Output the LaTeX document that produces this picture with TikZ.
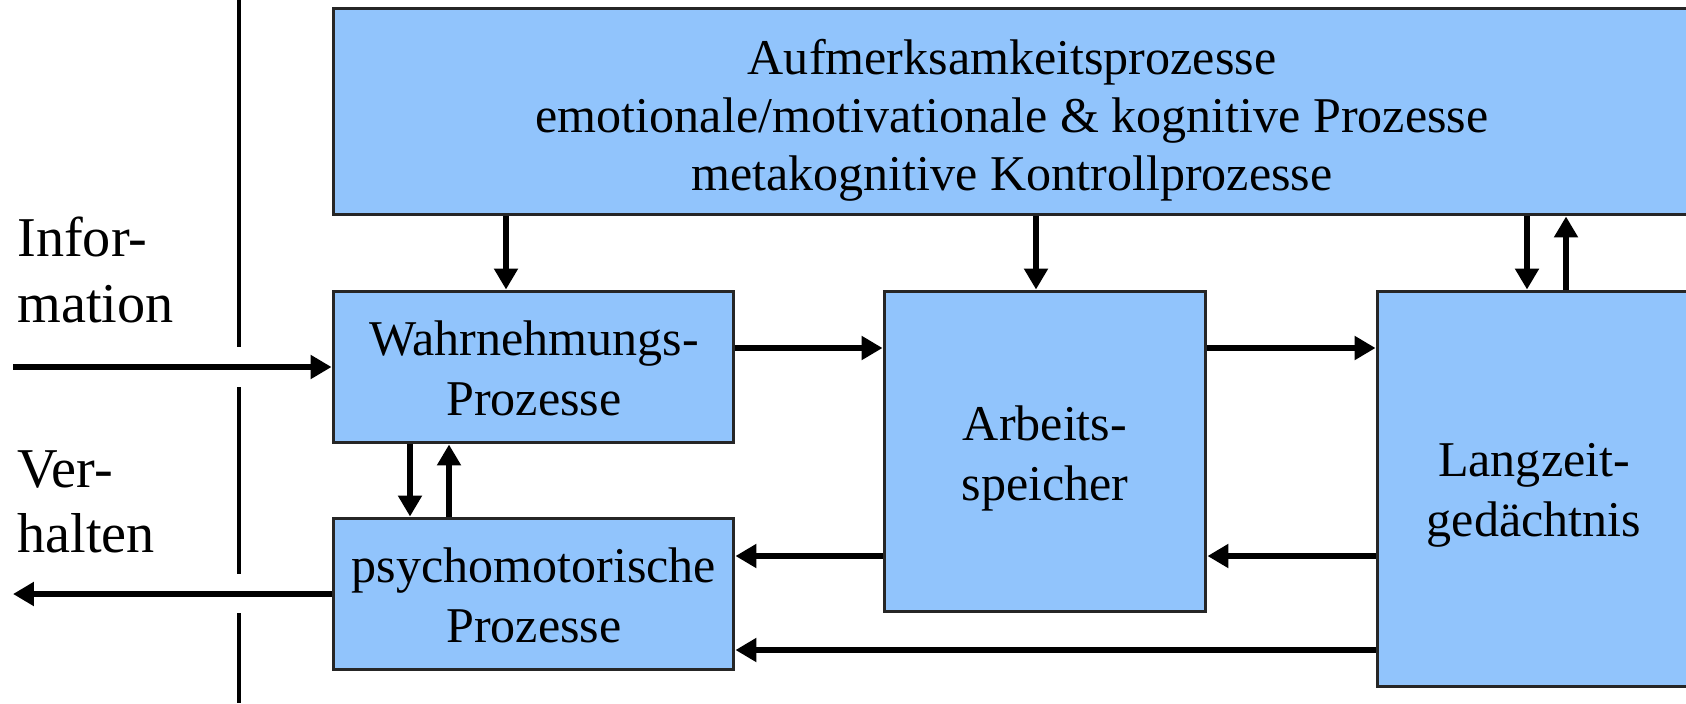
\documentclass[tikz,border=0pt]{standalone}
\usepackage{fontspec}
\setmainfont{Liberation Serif}
\usetikzlibrary{arrows.meta}
\definecolor{boxblue}{RGB}{145,196,252}
\begin{document}
\begin{tikzpicture}[x=0.02cm,y=-0.02cm,
  box/.style={draw=black!85, line width=0.06cm, fill=boxblue, inner sep=0pt},
  boxtext/.style={anchor=base, align=center, inner sep=0pt,
              font=\fontsize{28.5}{34}\selectfont},
  arr/.style={line width=0.13cm, -{Triangle[length=0.42cm,width=0.46cm]}},
  lbl/.style={anchor=base west, align=left, inner sep=0pt, font=\fontsize{32}{37}\selectfont},
  sep/.style={line width=0.07cm}]
\clip (0,0) rectangle (1686,703);
\fill[white] (0,0) rectangle (1686,703);

% boxes
\node[box, minimum width=27.24cm, minimum height=4.14cm] (top) at (1014,111.5) {};
\node[box, minimum width=8.02cm, minimum height=3.04cm] (wahr) at (533.5,367) {};
\node[box, minimum width=8.02cm, minimum height=3.04cm] (psy) at (533.5,594) {};
\node[box, minimum width=6.44cm, minimum height=6.42cm] (arb) at (1045,451.5) {};
\node[box, minimum width=6.36cm, minimum height=7.92cm] (lang) at (1536,489) {};

% box texts (anchored at the baseline of the last line)
\node[boxtext, font=\fontsize{28.5}{33}\selectfont] (toptxt) at (1012,190)
  {Aufmerksamkeitsprozesse\\emotionale/motivationale \& kognitive Prozesse\\metakognitive Kontrollprozesse};
\node[boxtext] (wahrtxt) at (534,415) {Wahrnehmungs-\\Prozesse};
\node[boxtext] (psytxt) at (534,642) {psychomotorische\\Prozesse};
\node[boxtext] (arbtxt) at (1045,500) {Arbeits-\\speicher};
\node[boxtext] (langtxt) at (1534,536) {Langzeit-\\gedächtnis};

% side labels (anchored at the baseline of the last line)
\node[lbl] (info) at (17,322) {Infor-\\mation};
\node[lbl] (verh) at (17,552) {Ver-\\halten};

% separator line
\coordinate (s0) at (239,0);
\coordinate (s1) at (239,347);
\coordinate (s2) at (239,387);
\coordinate (s3) at (239,574);
\coordinate (s4) at (239,613);
\coordinate (s5) at (239,703);
\draw[sep] (s0) -- (s1);
\draw[sep] (s2) -- (s3);
\draw[sep] (s4) -- (s5);

% helper coordinates
\coordinate (xA) at (506,0);
\coordinate (xB) at (1036,0);
\coordinate (xC) at (1527,0);
\coordinate (xD) at (1566,0);
\coordinate (xE) at (410,0);
\coordinate (xF) at (449,0);
\coordinate (yA) at (0,348);
\coordinate (yB) at (0,556);
\coordinate (yC) at (0,650);
\coordinate (inL) at (13,367);
\coordinate (outL) at (13,594);

% connectors
\draw[arr] (inL) -- (wahr.west);
\draw[arr] (psy.west) -- (outL);
\draw[arr] (top.south -| xA) -- (wahr.north -| xA);
\draw[arr] (top.south -| xB) -- (arb.north -| xB);
\draw[arr] (top.south -| xC) -- (lang.north -| xC);
\draw[arr] (lang.north -| xD) -- (top.south -| xD);
\draw[arr] (wahr.south -| xE) -- (psy.north -| xE);
\draw[arr] (psy.north -| xF) -- (wahr.south -| xF);
\draw[arr] (wahr.east |- yA) -- (arb.west |- yA);
\draw[arr] (arb.east |- yA) -- (lang.west |- yA);
\draw[arr] (arb.west |- yB) -- (psy.east |- yB);
\draw[arr] (lang.west |- yB) -- (arb.east |- yB);
\draw[arr] (lang.west |- yC) -- (psy.east |- yC);
\end{tikzpicture}
\end{document}
